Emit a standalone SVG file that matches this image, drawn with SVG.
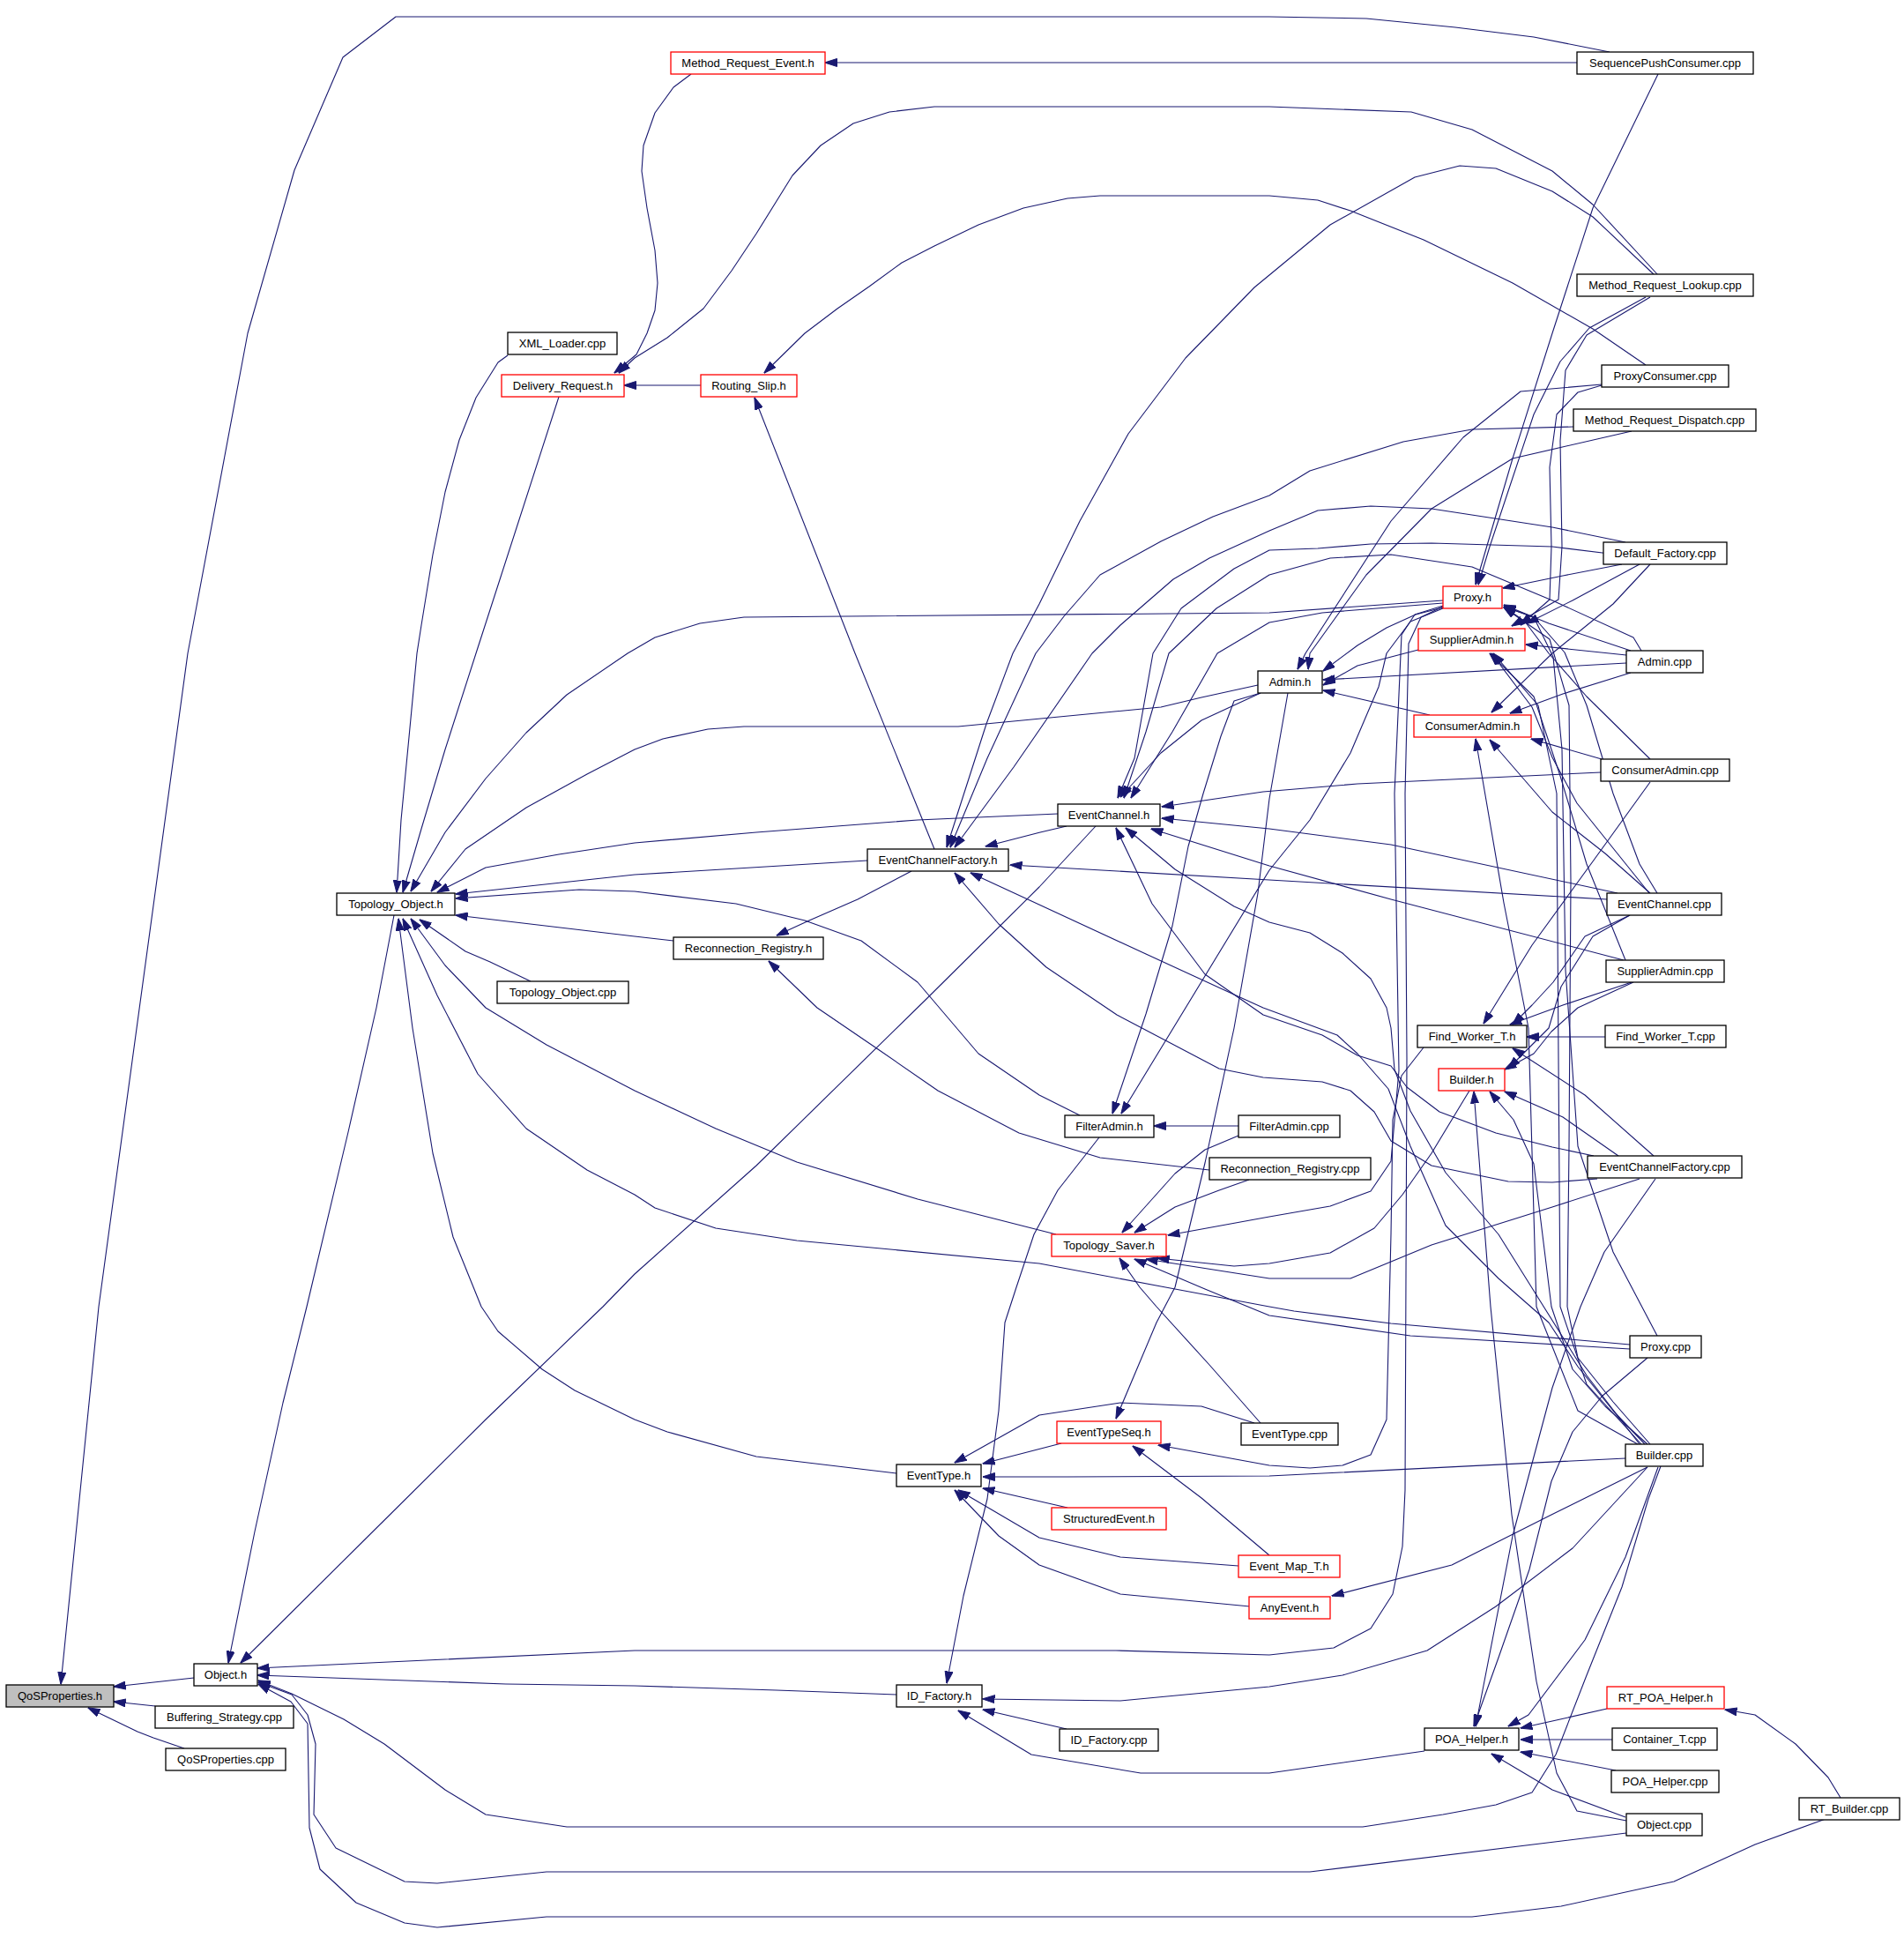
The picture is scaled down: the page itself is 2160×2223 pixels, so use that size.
<svg xmlns="http://www.w3.org/2000/svg" width="2160" height="2223" viewBox="0 0 2160 2223">
<defs>
<marker id="a" viewBox="0 0 14 10" markerWidth="14" markerHeight="10" refX="13.5" refY="5" orient="auto" markerUnits="userSpaceOnUse"><path d="M0,0.5 L14,5 L0,9.5 z" fill="#191970" stroke="#191970" stroke-width="1"/></marker>
</defs>
<style>
.e{fill:none;stroke:#191970;stroke-width:1.1;stroke-linejoin:round;marker-end:url(#a)}
.b{fill:#ffffff;stroke:#000000;stroke-width:1.3}
.r{fill:#ffffff;stroke:#ff0000;stroke-width:1.3}
.g{fill:#bfbfbf;stroke:#000000;stroke-width:1.3}
text{font-family:"Liberation Sans",Arial,sans-serif;font-size:13px;fill:#000000;text-anchor:middle}
</style>
<rect x="0" y="0" width="2160" height="2223" fill="#ffffff"/>
<g id="edges">
<path class="e" d="M1826,59 L1740,42 L1651,31 L1550,21 L1440,19 L449,19 L389,65 L334,193 L281,378 L213,741 L112,1482 L69,1910"/>
<path class="e" d="M220,1903 L129,1913"/>
<path class="e" d="M176,1935 L129,1930"/>
<path class="e" d="M209,1983 L174,1971 L156,1964 L100,1937"/>
<path class="e" d="M447,1038 L427,1143 L395,1284 L348,1482 L321,1591 L289,1737 L259,1886"/>
<path class="e" d="M1243,937 L1179,1006 L1051,1133 L858,1322 L720,1445 L684,1482 L551,1610 L413,1747 L273,1886"/>
<path class="e" d="M1637,688 L1612,700 L1598,730 L1594,900 L1596,1200 L1594,1690 L1591,1754 L1580,1808 L1555,1847 L1513,1869 L1440,1877 L1266,1872 L720,1872 L292,1892"/>
<path class="e" d="M1017,1922 L881,1917 L720,1912 L574,1910 L292,1900"/>
<path class="e" d="M1884,1663 L1870,1700 L1840,1800 L1800,1900 L1765,1990 L1738,2033 L1697,2047 L1637,2058 L1546,2072 L1440,2072 L720,2072 L643,2072 L551,2058 L505,2030 L436,1978 L390,1950 L331,1921 L293,1906"/>
<path class="e" d="M1845,2079 L1486,2123 L720,2123 L620,2123 L496,2136 L459,2134 L381,2096 L356,2058 L358,1978 L349,1945 L331,1922 L293,1908"/>
<path class="e" d="M2071,2063 L1991,2092 L1899,2134 L1771,2162 L1670,2174 L620,2174 L496,2186 L459,2181 L404,2158 L363,2120 L351,2073 L349,1955 L330,1930 L293,1910"/>
<path class="e" d="M576,403 L565,411 L540,451 L521,499 L505,558 L491,629 L478,709 L473,741 L464,836 L455,930 L450,1012"/>
<path class="e" d="M634,450 L540,741 L505,850 L478,940 L457,1012"/>
<path class="e" d="M1637,681 L1440,695 L844,700 L794,707 L743,723 L712,741 L643,788 L597,831 L551,883 L505,944 L466,1011"/>
<path class="e" d="M1427,777 L1363,791 L1317,802 L1087,824 L844,824 L803,827 L752,838 L720,850 L666,878 L597,916 L528,963 L489,1011"/>
<path class="e" d="M1200,923 L1041,930 L858,944 L720,956 L634,969 L551,984 L496,1012"/>
<path class="e" d="M984,976 L720,992 L517,1014"/>
<path class="e" d="M1225,1265 L1179,1242 L1110,1195 L1041,1114 L977,1067 L913,1044 L835,1025 L720,1011 L657,1009 L517,1019"/>
<path class="e" d="M764,1067 L720,1062 L517,1038"/>
<path class="e" d="M602,1113 L556,1091 L528,1079 L476,1043"/>
<path class="e" d="M1198,1400 L1041,1360 L904,1318 L812,1280 L720,1237 L620,1185 L551,1143 L505,1095 L466,1042"/>
<path class="e" d="M1849,1525 L1578,1501 L1468,1487 L1440,1482 L1317,1459 L1179,1433 L904,1407 L812,1393 L743,1370 L720,1355 L666,1327 L597,1280 L542,1218 L496,1129 L457,1042"/>
<path class="e" d="M1017,1671 L858,1652 L757,1624 L720,1610 L652,1577 L615,1553 L565,1510 L546,1482 L514,1403 L491,1308 L468,1166 L452,1042"/>
<path class="e" d="M795,437 L708,437"/>
<path class="e" d="M784,84 L764,99 L743,128 L730,165 L728,194 L734,236 L743,284 L746,321 L743,352 L734,378 L722,402 L697,423"/>
<path class="e" d="M1881,312 L1807,232 L1761,194 L1670,147 L1601,127 L1440,121 L1060,121 L1009,127 L968,140 L931,165 L899,199 L858,265 L830,307 L798,350 L757,383 L720,406 L702,423"/>
<path class="e" d="M1867,414 L1807,373 L1716,321 L1615,272 L1532,239 L1495,227 L1440,222 L1248,222 L1211,225 L1161,236 L1110,255 L1060,279 L1023,298 L986,325 L950,350 L913,378 L867,423"/>
<path class="e" d="M1060,963 L970,741 L856,451"/>
<path class="e" d="M1210,937 L1180,944 L1118,960"/>
<path class="e" d="M1876,311 L1807,246 L1761,217 L1697,191 L1656,188 L1605,201 L1509,255 L1440,312 L1423,326 L1386,364 L1345,406 L1280,492 L1225,591 L1179,685 L1149,741 L1119,821 L1074,961"/>
<path class="e" d="M1785,484 L1670,487 L1592,501 L1486,534 L1440,562 L1376,586 L1317,614 L1248,652 L1207,699 L1175,741 L1120,860 L1078,961"/>
<path class="e" d="M1844,615 L1761,598 L1624,577 L1555,574 L1495,579 L1440,602 L1372,633 L1331,657 L1271,709 L1239,741 L1150,870 L1083,961"/>
<path class="e" d="M1823,1020 L1440,998 L1146,981"/>
<path class="e" d="M1812,1337 L1761,1341 L1711,1340 L1624,1322 L1578,1294 L1559,1261 L1532,1237 L1500,1227 L1433,1222 L1383,1212 L1267,1151 L1187,1097 L1133,1048 L1083,990"/>
<path class="e" d="M1866,1638 L1830,1600 L1790,1550 L1757,1500 L1700,1450 L1640,1390 L1600,1300 L1575,1235 L1540,1195 L1517,1174 L1433,1143 L1400,1128 L1300,1082 L1101,990"/>
<path class="e" d="M1430,786 L1363,817 L1317,854 L1271,904"/>
<path class="e" d="M1826,628 L1761,620 L1624,616 L1555,617 L1495,622 L1440,624 L1400,645 L1340,690 L1308,741 L1287,860 L1268,905"/>
<path class="e" d="M1862,738 L1853,723 L1761,681 L1670,643 L1578,629 L1509,633 L1440,652 L1380,690 L1326,741 L1300,830 L1275,905"/>
<path class="e" d="M1637,684 L1500,695 L1440,706 L1381,741 L1330,830 L1283,905"/>
<path class="e" d="M1816,876 L1540,889 L1433,898 L1318,915"/>
<path class="e" d="M1835,1013 L1578,958 L1440,940 L1318,928"/>
<path class="e" d="M1842,1089 L1578,1020 L1440,982 L1306,940"/>
<path class="e" d="M1860,1638 L1800,1560 L1750,1480 L1700,1400 L1640,1330 L1600,1260 L1582,1213 L1578,1166 L1573,1143 L1555,1110 L1523,1081 L1486,1058 L1440,1046 L1400,1028 L1333,986 L1277,939"/>
<path class="e" d="M1808,1311 L1761,1301 L1697,1285 L1633,1261 L1596,1233 L1578,1209 L1540,1197 L1500,1174 L1433,1151 L1367,1105 L1307,1025 L1266,939"/>
<path class="e" d="M1034,988 L973,1020 L918,1044 L881,1061"/>
<path class="e" d="M1372,1327 L1248,1313 L1156,1285 L1064,1237 L996,1190 L927,1143 L872,1090"/>
<path class="e" d="M1405,1277 L1309,1277"/>
<path class="e" d="M1430,786 L1400,795 L1385,835 L1365,900 L1348,960 L1330,1050 L1300,1150 L1262,1263"/>
<path class="e" d="M1637,690 L1600,705 L1585,725 L1573,741 L1564,779 L1532,854 L1486,930 L1440,987 L1272,1263"/>
<path class="e" d="M1405,1288 L1367,1304 L1333,1331 L1273,1398"/>
<path class="e" d="M1417,1338 L1383,1350 L1333,1369 L1287,1398"/>
<path class="e" d="M1637,687 L1605,697 L1590,720 L1582,900 L1587,1214 L1578,1317 L1555,1351 L1509,1368 L1440,1380 L1325,1401"/>
<path class="e" d="M1667,1237 L1647,1270 L1624,1308 L1591,1355 L1559,1393 L1509,1421 L1440,1433 L1400,1436 L1313,1427"/>
<path class="e" d="M1860,1337 L1761,1369 L1624,1412 L1532,1450 L1440,1450 L1300,1428"/>
<path class="e" d="M1430,1614 L1372,1548 L1312,1482 L1293,1460 L1270,1427"/>
<path class="e" d="M1849,1530 L1600,1515 L1440,1492 L1367,1462 L1287,1428"/>
<path class="e" d="M1247,1290 L1200,1350 L1173,1400 L1153,1460 L1140,1500 L1133,1600 L1120,1700 L1093,1810 L1074,1909"/>
<path class="e" d="M1869,1664 L1784,1756 L1697,1822 L1619,1872 L1523,1900 L1440,1913 L1271,1929 L1115,1927"/>
<path class="e" d="M1210,1961 L1115,1939"/>
<path class="e" d="M1616,1986 L1440,2011 L1294,2011 L1170,1990 L1087,1940"/>
<path class="e" d="M1423,1614 L1363,1595 L1271,1591 L1179,1605 L1083,1659"/>
<path class="e" d="M1204,1637 L1115,1660"/>
<path class="e" d="M1844,1654 L1440,1674 L1211,1675 L1115,1675"/>
<path class="e" d="M1211,1710 L1115,1688"/>
<path class="e" d="M1405,1776 L1271,1766 L1179,1744 L1087,1690"/>
<path class="e" d="M1418,1822 L1271,1808 L1179,1775 L1133,1742 L1083,1690"/>
<path class="e" d="M1461,786 L1440,906 L1427,1013 L1400,1166 L1367,1319 L1333,1460 L1312,1500 L1266,1609"/>
<path class="e" d="M1440,1764 L1363,1699 L1285,1640"/>
<path class="e" d="M1615,1188 L1590,1220 L1580,1270 L1578,1400 L1573,1610 L1555,1650 L1523,1662 L1486,1665 L1440,1662 L1314,1639"/>
<path class="e" d="M1869,1664 L1760,1718 L1647,1775 L1511,1810"/>
<path class="e" d="M1823,1938 L1770,1950 L1725,1960"/>
<path class="e" d="M1829,1973 L1725,1973"/>
<path class="e" d="M1833,2008 L1725,1987"/>
<path class="e" d="M1844,2061 L1761,2030 L1692,1989"/>
<path class="e" d="M1881,1664 L1844,1766 L1798,1860 L1734,1945 L1711,1958"/>
<path class="e" d="M1878,1337 L1820,1420 L1793,1482 L1761,1574 L1716,1742 L1674,1958"/>
<path class="e" d="M1869,1540 L1818,1583 L1784,1624 L1760,1680 L1735,1780 L1700,1880 L1672,1958"/>
<path class="e" d="M2088,2039 L2074,2016 L2037,1978 L1991,1945 L1957,1939"/>
<path class="e" d="M1845,2065 L1789,2054 L1766,2011 L1743,1907 L1715,1718 L1691,1482 L1672,1238"/>
<path class="e" d="M1869,1638 L1821,1595 L1784,1553 L1760,1482 L1740,1320 L1717,1270 L1690,1238"/>
<path class="e" d="M1836,1311 L1773,1267 L1707,1238"/>
<path class="e" d="M1849,1038 L1807,1062 L1771,1119 L1757,1166 L1711,1212"/>
<path class="e" d="M1853,1114 L1790,1143 L1760,1170 L1740,1195 L1707,1213"/>
<path class="e" d="M1872,887 L1807,977 L1738,1072 L1683,1161"/>
<path class="e" d="M1851,1114 L1773,1140 L1713,1162"/>
<path class="e" d="M1849,1038 L1798,1062 L1762,1114 L1738,1140 L1716,1162"/>
<path class="e" d="M1821,1176 L1732,1176"/>
<path class="e" d="M1876,1311 L1798,1242 L1716,1189"/>
<path class="e" d="M1860,640 L1784,681 L1732,707"/>
<path class="e" d="M1817,437 L1790,445 L1766,470 L1758,530 L1760,620 L1758,680 L1725,709"/>
<path class="e" d="M1872,337 L1800,380 L1776,420 L1770,500 L1772,620 L1768,680 L1715,710"/>
<path class="e" d="M1845,743 L1731,731"/>
<path class="e" d="M1871,1013 L1789,911 L1761,859 L1738,802 L1692,741"/>
<path class="e" d="M1844,1089 L1800,980 L1770,880 L1740,790 L1690,741"/>
<path class="e" d="M1862,1638 L1800,1570 L1770,1482 L1768,1200 L1766,900 L1745,800 L1694,741"/>
<path class="e" d="M1872,640 L1830,685 L1761,741 L1692,808"/>
<path class="e" d="M1850,763 L1773,787 L1713,809"/>
<path class="e" d="M1817,861 L1737,838"/>
<path class="e" d="M1858,1638 L1790,1600 L1743,1482 L1734,1166 L1706,1024 L1674,838"/>
<path class="e" d="M1872,1013 L1821,968 L1761,921 L1690,839"/>
<path class="e" d="M1817,436 L1725,444 L1660,496 L1578,591 L1481,741 L1472,759"/>
<path class="e" d="M1851,489 L1716,520 L1624,577 L1550,652 L1486,741 L1484,759"/>
<path class="e" d="M1637,689 L1606,697 L1573,712 L1540,732 L1501,761"/>
<path class="e" d="M1845,752 L1501,771"/>
<path class="e" d="M1609,737 L1540,755 L1501,777"/>
<path class="e" d="M1622,811 L1540,792 L1501,783"/>
<path class="e" d="M1881,84 L1807,236 L1761,378 L1716,520 L1674,663"/>
<path class="e" d="M1867,337 L1803,372 L1770,410 L1740,470 L1710,560 L1690,620 L1677,663"/>
<path class="e" d="M1840,640 L1773,653 L1705,667"/>
<path class="e" d="M1850,738 L1757,707 L1706,686"/>
<path class="e" d="M1872,861 L1800,790 L1757,741 L1730,705 L1706,688"/>
<path class="e" d="M1880,1013 L1860,980 L1830,900 L1800,800 L1775,740 L1740,700 L1706,688"/>
<path class="e" d="M1880,1515 L1830,1420 L1790,1300 L1776,1100 L1772,850 L1762,745 L1740,700 L1706,688"/>
<path class="e" d="M1872,1638 L1830,1590 L1790,1540 L1778,1482 L1780,1300 L1782,1000 L1780,800 L1758,725 L1706,689"/>
<path class="e" d="M1789,71 L936,71"/>
</g>
<g id="n_QoSProperties_h"><rect class="g" x="7" y="1911" width="122" height="25"/><text x="68" y="1928">QoSProperties.h</text></g>
<g id="n_Object_h"><rect class="b" x="220" y="1887" width="72" height="25"/><text x="256" y="1904">Object.h</text></g>
<g id="n_Buffering_Strategy_cpp"><rect class="b" x="176" y="1935" width="157" height="25"/><text x="254.5" y="1952">Buffering_Strategy.cpp</text></g>
<g id="n_QoSProperties_cpp"><rect class="b" x="188" y="1983" width="136" height="25"/><text x="256" y="2000">QoSProperties.cpp</text></g>
<g id="n_Topology_Object_h"><rect class="b" x="382" y="1013" width="134" height="25"/><text x="449" y="1030">Topology_Object.h</text></g>
<g id="n_XML_Loader_cpp"><rect class="b" x="576" y="377" width="124" height="25"/><text x="638" y="394">XML_Loader.cpp</text></g>
<g id="n_Delivery_Request_h"><rect class="r" x="569" y="425" width="139" height="25"/><text x="638.5" y="442">Delivery_Request.h</text></g>
<g id="n_Method_Request_Event_h"><rect class="r" x="761" y="59" width="175" height="25"/><text x="848.5" y="76">Method_Request_Event.h</text></g>
<g id="n_Routing_Slip_h"><rect class="r" x="795" y="425" width="109" height="25"/><text x="849.5" y="442">Routing_Slip.h</text></g>
<g id="n_Topology_Object_cpp"><rect class="b" x="564" y="1113" width="149" height="25"/><text x="638.5" y="1130">Topology_Object.cpp</text></g>
<g id="n_EventChannelFactory_h"><rect class="b" x="984" y="963" width="160" height="25"/><text x="1064" y="980">EventChannelFactory.h</text></g>
<g id="n_EventChannel_h"><rect class="b" x="1200" y="912" width="116" height="25"/><text x="1258" y="929">EventChannel.h</text></g>
<g id="n_Reconnection_Registry_h"><rect class="b" x="764" y="1063" width="170" height="25"/><text x="849" y="1080">Reconnection_Registry.h</text></g>
<g id="n_FilterAdmin_h"><rect class="b" x="1208" y="1265" width="101" height="25"/><text x="1258.5" y="1282">FilterAdmin.h</text></g>
<g id="n_FilterAdmin_cpp"><rect class="b" x="1405" y="1265" width="115" height="25"/><text x="1462.5" y="1282">FilterAdmin.cpp</text></g>
<g id="n_Reconnection_Registry_cpp"><rect class="b" x="1372" y="1313" width="183" height="25"/><text x="1463.5" y="1330">Reconnection_Registry.cpp</text></g>
<g id="n_Topology_Saver_h"><rect class="r" x="1193" y="1400" width="130" height="25"/><text x="1258" y="1417">Topology_Saver.h</text></g>
<g id="n_Admin_h"><rect class="b" x="1427" y="761" width="73" height="25"/><text x="1463.5" y="778">Admin.h</text></g>
<g id="n_Proxy_h"><rect class="r" x="1637" y="665" width="67" height="25"/><text x="1670.5" y="682">Proxy.h</text></g>
<g id="n_SupplierAdmin_h"><rect class="r" x="1609" y="713" width="121" height="25"/><text x="1669.5" y="730">SupplierAdmin.h</text></g>
<g id="n_ConsumerAdmin_h"><rect class="r" x="1604" y="811" width="133" height="25"/><text x="1670.5" y="828">ConsumerAdmin.h</text></g>
<g id="n_Find_Worker_T_h"><rect class="b" x="1608" y="1163" width="124" height="25"/><text x="1670" y="1180">Find_Worker_T.h</text></g>
<g id="n_Builder_h"><rect class="r" x="1632" y="1212" width="75" height="25"/><text x="1669.5" y="1229">Builder.h</text></g>
<g id="n_EventTypeSeq_h"><rect class="r" x="1199" y="1612" width="118" height="25"/><text x="1258" y="1629">EventTypeSeq.h</text></g>
<g id="n_EventType_h"><rect class="b" x="1017" y="1661" width="96" height="25"/><text x="1065" y="1678">EventType.h</text></g>
<g id="n_StructuredEvent_h"><rect class="r" x="1193" y="1710" width="130" height="25"/><text x="1258" y="1727">StructuredEvent.h</text></g>
<g id="n_Event_Map_T_h"><rect class="r" x="1405" y="1764" width="115" height="25"/><text x="1462.5" y="1781">Event_Map_T.h</text></g>
<g id="n_AnyEvent_h"><rect class="r" x="1417" y="1811" width="92" height="25"/><text x="1463" y="1828">AnyEvent.h</text></g>
<g id="n_EventType_cpp"><rect class="b" x="1408" y="1614" width="110" height="25"/><text x="1463" y="1631">EventType.cpp</text></g>
<g id="n_ID_Factory_h"><rect class="b" x="1017" y="1911" width="97" height="25"/><text x="1065.5" y="1928">ID_Factory.h</text></g>
<g id="n_ID_Factory_cpp"><rect class="b" x="1202" y="1961" width="112" height="25"/><text x="1258" y="1978">ID_Factory.cpp</text></g>
<g id="n_POA_Helper_h"><rect class="b" x="1616" y="1960" width="107" height="25"/><text x="1669.5" y="1977">POA_Helper.h</text></g>
<g id="n_RT_POA_Helper_h"><rect class="r" x="1823" y="1913" width="133" height="25"/><text x="1889.5" y="1930">RT_POA_Helper.h</text></g>
<g id="n_Container_T_cpp"><rect class="b" x="1829" y="1960" width="119" height="25"/><text x="1888.5" y="1977">Container_T.cpp</text></g>
<g id="n_POA_Helper_cpp"><rect class="b" x="1828" y="2008" width="122" height="25"/><text x="1889" y="2025">POA_Helper.cpp</text></g>
<g id="n_Object_cpp"><rect class="b" x="1845" y="2057" width="86" height="25"/><text x="1888" y="2074">Object.cpp</text></g>
<g id="n_RT_Builder_cpp"><rect class="b" x="2041" y="2039" width="114" height="25"/><text x="2098" y="2056">RT_Builder.cpp</text></g>
<g id="n_SequencePushConsumer_cpp"><rect class="b" x="1789" y="59" width="200" height="25"/><text x="1889" y="76">SequencePushConsumer.cpp</text></g>
<g id="n_Method_Request_Lookup_cpp"><rect class="b" x="1789" y="311" width="200" height="25"/><text x="1889" y="328">Method_Request_Lookup.cpp</text></g>
<g id="n_ProxyConsumer_cpp"><rect class="b" x="1817" y="414" width="144" height="25"/><text x="1889" y="431">ProxyConsumer.cpp</text></g>
<g id="n_Method_Request_Dispatch_cpp"><rect class="b" x="1785" y="464" width="207" height="25"/><text x="1888.5" y="481">Method_Request_Dispatch.cpp</text></g>
<g id="n_Default_Factory_cpp"><rect class="b" x="1819" y="615" width="140" height="25"/><text x="1889" y="632">Default_Factory.cpp</text></g>
<g id="n_Admin_cpp"><rect class="b" x="1845" y="738" width="87" height="25"/><text x="1888.5" y="755">Admin.cpp</text></g>
<g id="n_ConsumerAdmin_cpp"><rect class="b" x="1816" y="861" width="146" height="25"/><text x="1889" y="878">ConsumerAdmin.cpp</text></g>
<g id="n_EventChannel_cpp"><rect class="b" x="1823" y="1013" width="130" height="25"/><text x="1888" y="1030">EventChannel.cpp</text></g>
<g id="n_SupplierAdmin_cpp"><rect class="b" x="1822" y="1089" width="134" height="25"/><text x="1889" y="1106">SupplierAdmin.cpp</text></g>
<g id="n_Find_Worker_T_cpp"><rect class="b" x="1821" y="1163" width="137" height="25"/><text x="1889.5" y="1180">Find_Worker_T.cpp</text></g>
<g id="n_EventChannelFactory_cpp"><rect class="b" x="1801" y="1311" width="175" height="25"/><text x="1888.5" y="1328">EventChannelFactory.cpp</text></g>
<g id="n_Proxy_cpp"><rect class="b" x="1849" y="1515" width="81" height="25"/><text x="1889.5" y="1532">Proxy.cpp</text></g>
<g id="n_Builder_cpp"><rect class="b" x="1844" y="1638" width="88" height="25"/><text x="1888" y="1655">Builder.cpp</text></g>
</svg>
